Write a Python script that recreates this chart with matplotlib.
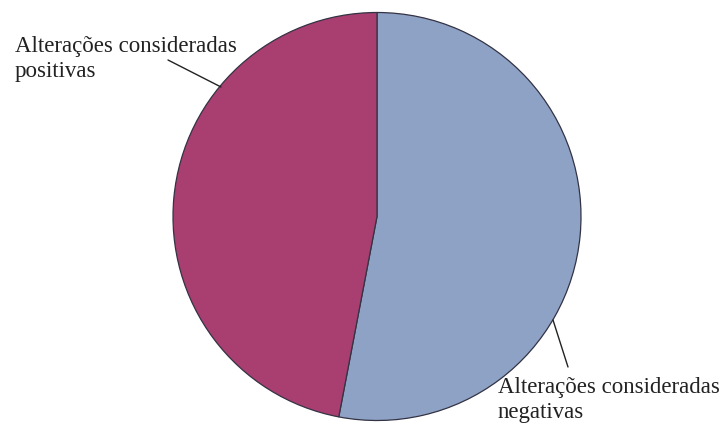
import matplotlib.pyplot as plt

# pie data
labels = ['Alterações consideradas\nnegativas', 'Alterações consideradas\npositivas']
values = [53, 47]
colors = ['#8EA2C6', '#A93E70']

W, H = 724, 427

fig = plt.figure(figsize=(W / 100, H / 100), dpi=100)
ax = fig.add_axes([0, 0, 1, 1])

ax.pie(values, colors=colors, startangle=90, counterclock=False,
       center=(377, H - 217.5), radius=204,
       wedgeprops=dict(edgecolor='#333344', linewidth=0.9))

ax.set_xlim(0, W)
ax.set_ylim(0, H)
ax.set_aspect('equal')
ax.axis('off')

font = dict(family='Liberation Serif', fontsize=16.5, color='#222222',
            linespacing=1.22)
line = dict(arrowstyle='-', color='#222222', lw=1.0, shrinkA=0, shrinkB=0)

# label for the pink slice, top left
ax.text(15, H - 36, labels[1], ha='left', va='top', **font)
ax.annotate('', xy=(221, H - 88), xytext=(168, H - 61), arrowprops=line)

# label for the blue slice, bottom right
ax.text(498, H - 377, labels[0], ha='left', va='top', **font)
ax.annotate('', xy=(553, H - 321), xytext=(568, H - 368), arrowprops=line)

fig.savefig('out.png', dpi=100)
